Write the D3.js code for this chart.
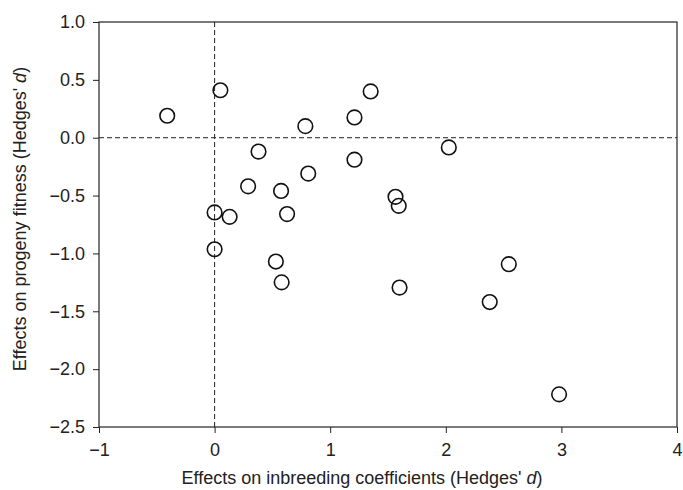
<!DOCTYPE html>
<html>
<head>
<meta charset="utf-8">
<script src="https://cdn.jsdelivr.net/npm/d3@7"></script>
<style>
  body { margin: 0; background: #fff; }
  svg { display: block; font-family: "Liberation Sans", Arial, sans-serif; }
</style>
</head>
<body>
<div id="chart"></div>
<script>
// Effects on inbreeding coefficients (x) vs progeny fitness (y), Hedges' d
const inbreedingD = [-0.41, 0.05, 1.35, 1.21, 0.785, 0.38, 1.21, 0.81, 0.29, 0.575, 0.0, 0.13,
                     0.627, 0.0, 0.53, 0.58, 2.026, 1.565, 1.593, 2.545, 1.60, 2.38, 2.98];
const fitnessD    = [0.19, 0.41, 0.40, 0.175, 0.10, -0.12, -0.19, -0.31, -0.42, -0.46, -0.646, -0.684,
                     -0.66, -0.964, -1.07, -1.25, -0.084, -0.511, -0.589, -1.093, -1.295, -1.42, -2.218];
const xTicks = [-1, 0, 1, 2, 3, 4];
const yTicks = [1.0, 0.5, 0.0, -0.5, -1.0, -1.5, -2.0, -2.5];

const width = 683, height = 490;
const margin = { top: 22, right: 6, bottom: 63, left: 99 };
const fontSize = '18px';

const svg = d3.select('#chart').append('svg')
    .attr('width', width)
    .attr('height', height);

const x = d3.scaleLinear()
    .domain([-1, 4])
    .range([margin.left, width - margin.right]);

const y = d3.scaleLinear()
    .domain([-2.5, 1.0])
    .range([height - margin.bottom, margin.top]);

// reference lines at zero
svg.append('line')
    .attr('x1', x(0)).attr('x2', x(0))
    .attr('y1', y(1.0)).attr('y2', y(-2.5))
    .attr('stroke', '#222').attr('stroke-width', 1)
    .attr('stroke-dasharray', '5,3');
svg.append('line')
    .attr('x1', x(-1)).attr('x2', x(4))
    .attr('y1', y(0)).attr('y2', y(0))
    .attr('stroke', '#222').attr('stroke-width', 1)
    .attr('stroke-dasharray', '5,3');

// frame
svg.append('rect')
    .attr('x', x(-1)).attr('y', y(1.0))
    .attr('width', x(4) - x(-1))
    .attr('height', y(-2.5) - y(1.0))
    .attr('fill', 'none')
    .attr('stroke', '#222')
    .attr('stroke-width', 1.2);

// axes
const xAxis = svg.append('g')
    .attr('transform', `translate(0,${y(-2.5)})`)
    .call(d3.axisBottom(x).tickValues(xTicks).tickSize(6).tickPadding(10)
        .tickFormat(d => d < 0 ? '\u2212' + Math.abs(d) : d));
const yAxis = svg.append('g')
    .attr('transform', `translate(${x(-1)},0)`)
    .call(d3.axisLeft(y).tickValues(yTicks).tickSize(6).tickPadding(8)
        .tickFormat(d => (d < 0 ? '\u2212' : '') + Math.abs(d).toFixed(1)));

[xAxis, yAxis].forEach(g => {
    g.select('.domain').remove();
    g.selectAll('line').attr('stroke', '#222');
    g.selectAll('text')
        .attr('fill', '#222')
        .attr('font-size', fontSize)
        .attr('font-family', '"Liberation Sans", Arial, sans-serif');
});

// points
svg.selectAll('circle')
    .data(inbreedingD)
    .join('circle')
    .attr('cx', d => x(d))
    .attr('cy', (d, i) => y(fitnessD[i]))
    .attr('r', 7.3)
    .attr('fill', 'none')
    .attr('stroke', '#111')
    .attr('stroke-width', 1.6);

// axis titles
const xLabel = svg.append('text')
    .attr('x', 362)
    .attr('y', 484)
    .attr('text-anchor', 'middle')
    .attr('font-size', fontSize)
    .attr('fill', '#222');
xLabel.append('tspan').text("Effects on inbreeding coefficients (Hedges' ");
xLabel.append('tspan').attr('font-style', 'italic').text('d');
xLabel.append('tspan').text(')');

const yLabel = svg.append('text')
    .attr('transform', 'translate(26,219) rotate(-90)')
    .attr('text-anchor', 'middle')
    .attr('font-size', fontSize)
    .attr('fill', '#222');
yLabel.append('tspan').text("Effects on progeny fitness (Hedges' ");
yLabel.append('tspan').attr('font-style', 'italic').text('d');
yLabel.append('tspan').text(')');
</script>
</body>
</html>
